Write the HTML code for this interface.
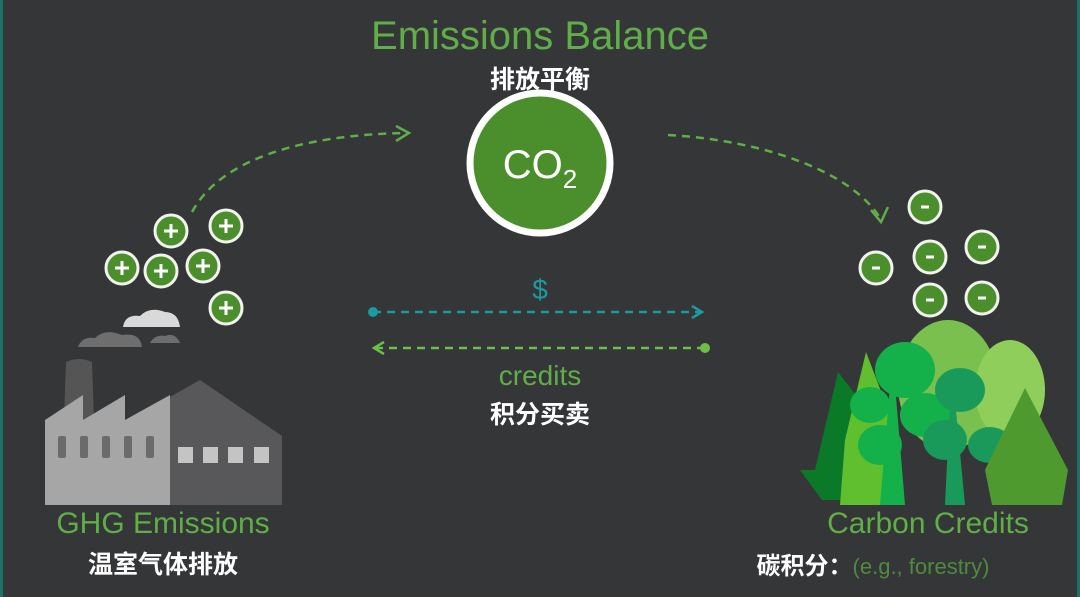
<!DOCTYPE html>
<html><head><meta charset="utf-8"><style>
html,body{margin:0;padding:0}
body{width:1080px;height:597px;background:#353638;position:relative;overflow:hidden;font-family:"Liberation Sans","Noto Sans CJK SC",sans-serif}
.t{position:absolute;white-space:nowrap;transform:translateX(-50%)}
.g{color:#5fae48}
.w{color:#fff;font-weight:bold}
</style></head><body>
<svg width="1080" height="597" style="position:absolute;left:0;top:0">
<rect x="0" y="0" width="3" height="597" fill="#1f6f6a"/>
<rect x="1077" y="0" width="3" height="597" fill="#1f6f6a"/>
<defs>
<g id="p"><circle r="16" fill="#4a8f2c" stroke="#f2f2ee" stroke-width="3"/><path d="M-7 0H7M0 -7V7" stroke="#fff" stroke-width="3"/></g>
<g id="m"><circle r="16" fill="#4a8f2c" stroke="#f2f2ee" stroke-width="3"/><rect x="-4" y="-1.5" width="8" height="3" fill="#fff"/></g>
</defs>
<!-- arrows -->
<path d="M192 212 C 220 160, 300 135, 405 133" fill="none" stroke="#5fae48" stroke-width="2.5" stroke-dasharray="8 6"/>
<path d="M396 126 L409 133 L396 141" fill="none" stroke="#5fae48" stroke-width="2.5"/>
<path d="M668 135 C 760 140, 850 170, 880 218" fill="none" stroke="#5fae48" stroke-width="2.5" stroke-dasharray="8 6"/>
<path d="M871 210 L881 222 L888 207" fill="none" stroke="#5fae48" stroke-width="2.5"/>
<circle cx="373" cy="312" r="5" fill="#1c9aa0"/>
<line x1="373" y1="312" x2="700" y2="312" stroke="#1c9aa0" stroke-width="2.5" stroke-dasharray="8 6"/>
<path d="M692 306 L702 312 L692 318" fill="none" stroke="#1c9aa0" stroke-width="2.5"/>
<circle cx="705" cy="348" r="5" fill="#6cc04a"/>
<line x1="705" y1="348" x2="376" y2="348" stroke="#6cc04a" stroke-width="2.5" stroke-dasharray="8 6"/>
<path d="M384 342 L374 348 L384 354" fill="none" stroke="#6cc04a" stroke-width="2.5"/>
<!-- CO2 -->
<circle cx="540" cy="163" r="70" fill="#4a8f2c" stroke="#fff" stroke-width="7"/>
<text x="540" y="178" text-anchor="middle" font-family="Liberation Sans" font-size="40" fill="#fff">CO<tspan font-size="26" dy="10">2</tspan></text>
<!-- plus -->
<use href="#p" x="171" y="231"/><use href="#p" x="226" y="226"/><use href="#p" x="122" y="268"/>
<use href="#p" x="161" y="271"/><use href="#p" x="203" y="266"/><use href="#p" x="226" y="308"/>
<!-- minus -->
<use href="#m" x="925" y="207"/><use href="#m" x="876" y="268"/><use href="#m" x="930" y="257"/>
<use href="#m" x="982" y="247"/><use href="#m" x="930" y="300"/><use href="#m" x="982" y="298"/>
<!-- clouds -->
<path d="M123 327 Q125 314 140 316 Q150 306 165 312 Q178 312 180 327 Z" fill="#d9d9d9"/>
<path d="M78 347 Q82 336 95 338 Q105 328 122 335 Q140 332 142 347 Z" fill="#6e6e6e"/>
<path d="M150 343 Q155 334 165 336 Q175 332 180 343 Z" fill="#6e6e6e"/>
<!-- factory -->
<path d="M66 362 Q79 356 92 362 L94 420 L64 420 Z" fill="#555"/>
<path d="M170 397 L200 380 L282 436 L282 505 L170 505 Z" fill="#58585a"/>
<path d="M45 420 L83 395 L83 420 L125 395 L125 420 L170 395 L170 505 L45 505 Z" fill="#a6a6a6"/>
<g fill="#6b6b6b"><rect x="58" y="436" width="8" height="22" rx="2"/><rect x="80" y="436" width="8" height="22" rx="2"/><rect x="102" y="436" width="8" height="22" rx="2"/><rect x="124" y="436" width="8" height="22" rx="2"/><rect x="146" y="436" width="8" height="22" rx="2"/></g>
<g fill="#c4c4c4"><rect x="178" y="447" width="15" height="16"/><rect x="203" y="447" width="15" height="16"/><rect x="228" y="447" width="15" height="16"/><rect x="254" y="447" width="15" height="16"/></g>
<!-- forest -->
<ellipse cx="948" cy="385" rx="50" ry="65" fill="#79c04e"/>
<ellipse cx="1010" cy="390" rx="35" ry="50" fill="#8fce5a"/>
<path d="M838 372 L815 470 L800 470 L822 500 L880 500 L875 420 Z" fill="#0a7a28"/>
<path d="M866 352 L845 440 L840 505 L895 505 L892 420 Z" fill="#5fbf2e"/>
<ellipse cx="905" cy="370" rx="30" ry="28" fill="#14b04a"/>
<ellipse cx="870" cy="405" rx="20" ry="18" fill="#14b04a"/>
<ellipse cx="880" cy="445" rx="22" ry="20" fill="#14b04a"/>
<path d="M895 385 L905 505 L880 505 L890 385 Z" fill="#14b04a"/>
<ellipse cx="925" cy="415" rx="25" ry="22" fill="#14b04a"/>
<ellipse cx="960" cy="390" rx="25" ry="22" fill="#1a9a5a"/>
<ellipse cx="945" cy="440" rx="22" ry="20" fill="#1a9a5a"/>
<path d="M955 400 L965 505 L945 505 L950 400 Z" fill="#1a9a5a"/>
<ellipse cx="990" cy="445" rx="22" ry="18" fill="#1a9a5a"/>
<path d="M1025 388 L985 470 L992 505 L1062 505 L1068 470 Z" fill="#4e9a2e"/>
</svg>
<div class="t g" style="left:540px;top:14px;font-size:40px">Emissions Balance</div>
<div class="t w" style="left:540px;top:60px;font-size:25px">排放平衡</div>
<div class="t" style="left:540px;top:274px;font-size:28px;color:#1c9aa0">$</div>
<div class="t g" style="left:540px;top:360px;font-size:28px">credits</div>
<div class="t w" style="left:540px;top:395px;font-size:25px">积分买卖</div>
<div class="t g" style="left:163px;top:507px;font-size:30px">GHG Emissions</div>
<div class="t w" style="left:163px;top:545px;font-size:25px">温室气体排放</div>
<div class="t g" style="left:928px;top:507px;font-size:30px">Carbon Credits</div>
<div class="t" style="left:873px;top:546px;font-size:24px"><span class="w">碳积分：</span><span style="color:#4f8a40;font-size:22px">(e.g., forestry)</span></div>
</body></html>
